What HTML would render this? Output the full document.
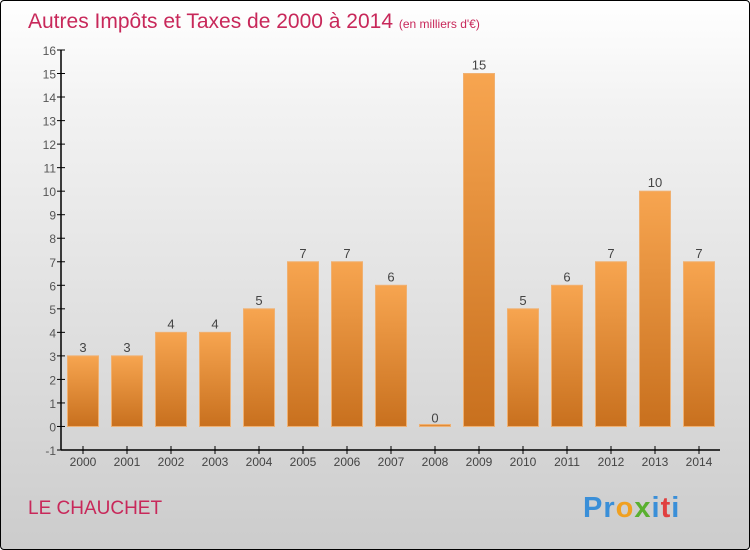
<!DOCTYPE html>
<html><head><meta charset="utf-8"><style>
body{margin:0;width:750px;height:550px;overflow:hidden;font-family:"Liberation Sans",sans-serif}
#wrap{position:absolute;left:0;top:0;width:748px;height:548px;border:1px solid #000;border-radius:4px;background:linear-gradient(#ffffff,#f2f2f2 20%,#d8d8d8 75%,#cccccc);overflow:hidden}
</style></head><body>
<div id="wrap">
<svg width="750" height="550" style="position:absolute;left:-1px;top:-1px">
<defs><linearGradient id="bg" x1="0" y1="0" x2="0" y2="1"><stop offset="0" stop-color="#f7a550"/><stop offset="1" stop-color="#c8701e"/></linearGradient></defs>
<text x="28" y="28" font-size="21" fill="#c8285a">Autres Impôts et Taxes de 2000 à 2014 <tspan font-size="12">(en milliers d'€)</tspan></text>
<text x="28" y="514" font-size="19" fill="#c8285a">LE CHAUCHET</text>
<text x="583" y="517" font-size="29" font-weight="bold" letter-spacing="1"><tspan fill="#3a8fd8">Pr</tspan><tspan fill="#f0a020">o</tspan><tspan fill="#5ab030">x</tspan><tspan fill="#3a8fd8">i</tspan><tspan fill="#e04040">t</tspan><tspan fill="#3a8fd8">i</tspan></text>
<g id="g"></g>
</svg></div>
<script>
const years=["2000","2001","2002","2003","2004","2005","2006","2007","2008","2009","2010","2011","2012","2013","2014"];
const values=[3,3,4,4,5,7,7,6,0,15,5,6,7,10,7];
const yTicks=[-1,0,1,2,3,4,5,6,7,8,9,10,11,12,13,14,15,16];
const NS="http://www.w3.org/2000/svg",g=document.getElementById('g');
const y=v=>450-(v+1)*400/17, x=i=>83+i*44;
function mk(t,a,p){const e=document.createElementNS(NS,t);for(const k in a)e.setAttribute(k,a[k]);(p||g).appendChild(e);return e;}
yTicks.forEach(v=>{
 const t=mk('line',{x1:57,x2:65,y1:y(v),y2:y(v),stroke:'#000'});
 
 
 const l=mk('text',{x:56,y:y(v)+5,'text-anchor':'end','font-size':12,fill:'#555'});l.textContent=v;
 
 
});
values.forEach((v,i)=>{
 const h=Math.max(y(0)-y(v),2);
 const r=mk('rect',{x:x(i)-15.5,y:y(0)-h,width:31,height:h,fill:'url(#bg)',stroke:'#f0b070','stroke-width':1});
 
 
 const l=mk('text',{x:x(i),y:y(v)-4,'text-anchor':'middle','font-size':13,fill:'#444'});l.textContent=v;
 
 
 const t=mk('line',{x1:x(i),x2:x(i),y1:446,y2:454,stroke:'#000'});
 
 
 const xl=mk('text',{x:x(i),y:466,'text-anchor':'middle','font-size':12,fill:'#444'});xl.textContent=years[i];
 
 
});
const ya=mk('line',{x1:61,x2:61,y1:50,y2:450,stroke:'#000','stroke-width':1.5});


const xa=mk('line',{x1:61,x2:720,y1:450,y2:450,stroke:'#000','stroke-width':1.5});


</script>
</body></html>
